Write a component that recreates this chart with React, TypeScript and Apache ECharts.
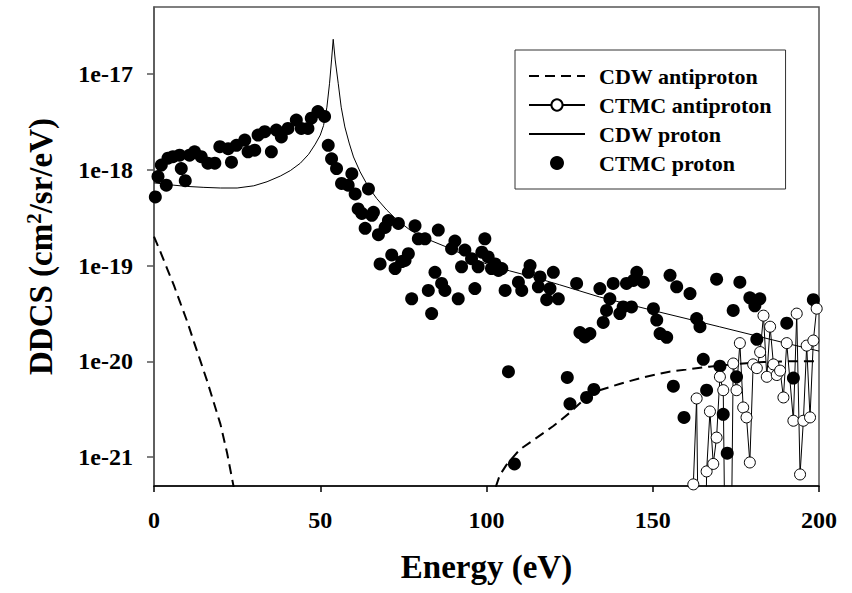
import React, { useEffect, useRef } from "react";
import * as echarts from "echarts";

// ---- Data ----
// CDW antiproton (dashed), low-energy part
const cdwAntiLowE = [0, 2, 4, 6, 8, 10, 12, 14, 16, 18, 20, 22, 24];
const cdwAntiLowV = [2.0e-19, 1.37e-19, 9.2e-20, 6.2e-20, 4.0e-20, 2.6e-20, 1.6e-20, 1.0e-20, 6.2e-21, 3.7e-21, 2.2e-21, 1.1e-21, 4.8e-22];
// CDW antiproton (dashed), high-energy part
const cdwAntiHighE = [102.8, 104, 106, 108, 110, 114, 120, 125, 130, 134, 140, 147, 155, 160, 167, 175, 182, 190, 200];
const cdwAntiHighV = [4.9e-22, 6.5e-22, 8.3e-22, 1.0e-21, 1.2e-21, 1.5e-21, 2.1e-21, 2.9e-21, 4.2e-21, 5.0e-21, 5.8e-21, 6.8e-21, 7.8e-21, 8.2e-21, 8.8e-21, 9.4e-21, 9.8e-21, 1.0e-20, 1.0e-20];

// CTMC antiproton (open circles joined by a line)
const ctmcAntiE = [162.2, 163.2, 164.7, 166.2, 167.2, 168.2, 169.2, 170.2, 171.2, 172.7, 174.2, 175.2, 176.2, 177.2, 178.2, 179.2, 180.2, 181.3, 182.3, 183.3, 184.3, 185.3, 186.3, 187.3, 188.3, 189.3, 190.3, 192.3, 193.3, 194.3, 195.3, 196.3, 197.3, 198.3, 199.3];
const ctmcAntiV = [5.2e-22, 4.1e-21, 1e-25, 7.1e-22, 3.0e-21, 8.5e-22, 1.6e-21, 6.9e-21, 5.0e-21, 1e-25, 9.5e-21, 5.0e-21, 1.55e-20, 3.3e-21, 2.6e-21, 8.8e-22, 9.3e-21, 8.5e-21, 1.25e-20, 3.0e-20, 6.9e-21, 2.3e-20, 9.3e-21, 7.2e-21, 8.0e-21, 4.2e-21, 1.55e-20, 2.4e-21, 3.15e-20, 6.6e-22, 2.4e-21, 1.46e-20, 2.6e-21, 1.65e-20, 3.55e-20];

// CDW proton (solid thin line)
const cdwProtonE = [0, 3, 6, 10, 15, 20, 25, 30, 34, 38, 41, 44, 46.5, 48.5, 50, 51, 52, 52.8, 53.4, 53.9, 54.5, 55.4, 56.3, 57.4, 58.7, 60, 62, 64.5, 67, 70, 73, 77, 82, 88, 94, 100, 107, 114, 122, 134, 142, 150, 160, 170, 181, 190, 200];
const cdwProtonV = [7.3e-19, 7.1e-19, 6.9e-19, 6.7e-19, 6.55e-19, 6.45e-19, 6.45e-19, 6.8e-19, 7.5e-19, 8.6e-19, 9.8e-19, 1.17e-18, 1.45e-18, 1.85e-18, 2.3e-18, 2.9e-18, 4.5e-18, 8e-18, 1.4e-17, 2.3e-17, 1.4e-17, 8e-18, 4.5e-18, 2.8e-18, 1.9e-18, 1.36e-18, 9.5e-19, 6.6e-19, 5.0e-19, 3.8e-19, 3.0e-19, 2.35e-19, 1.9e-19, 1.56e-19, 1.26e-19, 1.04e-19, 8.8e-20, 7.6e-20, 6.3e-20, 4.7e-20, 4.0e-20, 3.4e-20, 2.8e-20, 2.3e-20, 1.85e-20, 1.55e-20, 1.28e-20];

// CTMC proton (filled circles)
const ctmcProtonE = [0.4, 1.2, 2.2, 3.7, 4.2, 5.7, 7.7, 8.2, 9.4, 10.7, 12.2, 14.2, 16.2, 18.3, 19.8, 22.3, 23.3, 24.8, 27.3, 28.3, 30.3, 31.3, 33.3, 35.3, 36.8, 38.3, 40.3, 42.8, 44.3, 46.3, 47.3, 49.3, 51.3, 52.4, 53.4, 54.9, 56.4, 58.4, 59.5, 60.5, 61.4, 62.5, 63.5, 64.5, 65.5, 66.0, 67.5, 68.0, 69.5, 70.5, 71.5, 72.5, 73.5, 74.5, 75.5, 76.5, 77.5, 78.5, 79.5, 81.5, 82.5, 83.5, 84.5, 85.5, 86.5, 87.5, 89.5, 90.5, 91.5, 92.5, 93.5, 95.5, 96.5, 97.5, 98.6, 99.5, 100.5, 101.5, 102.6, 103.6, 104.6, 105.6, 106.6, 108.4, 109.6, 110.6, 112.6, 113.1, 115.6, 116.1, 118.1, 119.1, 120.1, 121.6, 124.3, 125.1, 127.1, 128.1, 129.6, 130.1, 131.1, 132.3, 134.1, 135.1, 136.1, 137.1, 138.1, 140.1, 141.1, 142.1, 143.6, 144.2, 145.2, 147.2, 150.2, 151.2, 152.2, 154.2, 155.2, 156.2, 157.2, 159.4, 161.2, 163.2, 164.2, 165.2, 166.2, 169.2, 170.2, 171.2, 172.4, 174.2, 175.2, 176.2, 179.2, 180.7, 181.3, 182.2, 190.3, 192.3, 198.3];
const ctmcProtonV = [5.2e-19, 8.5e-19, 1.12e-18, 6.9e-19, 1.32e-18, 1.37e-18, 1.42e-18, 1.03e-18, 7.7e-19, 1.42e-18, 1.54e-18, 1.37e-18, 1.17e-18, 1.17e-18, 1.74e-18, 1.66e-18, 1.2e-18, 1.8e-18, 2.04e-18, 1.54e-18, 1.6e-18, 2.3e-18, 2.5e-18, 1.54e-18, 2.6e-18, 2.2e-18, 2.7e-18, 3.3e-18, 2.7e-18, 2.7e-18, 3.45e-18, 4.05e-18, 3.6e-18, 1.8e-18, 1.3e-18, 1.03e-18, 7.2e-19, 6.9e-19, 9.1e-19, 5.6e-19, 3.9e-19, 3.5e-19, 2.45e-19, 6.3e-19, 3.35e-19, 3.6e-19, 2.1e-19, 1.04e-19, 2.5e-19, 2.95e-19, 1.29e-19, 9.3e-20, 2.75e-19, 1.1e-19, 1.13e-19, 1.33e-19, 4.5e-20, 2.6e-19, 1.9e-19, 1.9e-19, 5.5e-20, 3.15e-20, 8.5e-20, 2.35e-19, 6.5e-20, 5.5e-20, 1.5e-19, 1.8e-19, 4.5e-20, 9.7e-20, 1.45e-19, 1.18e-19, 5.75e-20, 9.7e-20, 1.38e-19, 1.9e-19, 1.23e-19, 9.3e-20, 1.04e-19, 8.9e-20, 9.3e-20, 5.5e-20, 7.8e-21, 8.5e-22, 6.7e-20, 5.5e-20, 8.5e-20, 1.0e-19, 6.0e-20, 7.6e-20, 4.4e-20, 5.75e-20, 8.5e-20, 4.5e-20, 6.8e-21, 3.6e-21, 6.5e-20, 2.0e-20, 1.8e-20, 4.2e-21, 1.95e-20, 5.1e-21, 5.75e-20, 2.55e-20, 3.4e-20, 4.5e-20, 6.5e-20, 3.15e-20, 3.7e-20, 6.5e-20, 3.7e-20, 7.0e-20, 8.5e-20, 6.7e-20, 3.55e-20, 2.7e-20, 1.95e-20, 1.78e-20, 7.9e-20, 5.5e-21, 6.0e-20, 2.6e-21, 5.1e-20, 2.8e-20, 2.3e-20, 1.05e-20, 5.0e-21, 7.2e-20, 8.9e-21, 2.8e-21, 1.1e-21, 3.4e-20, 6.9e-21, 6.7e-20, 4.6e-20, 3.8e-20, 1.7e-20, 4.5e-20, 2.5e-20, 6.7e-21, 4.4e-20];

const xTicks = { min: 0, max: 200, interval: 50 };
const yRange = { min: 5e-22, max: 5e-17 };

const zip = (xs: number[], ys: number[]) => xs.map((x, i) => [x, ys[i]]);

const FONT = "'Liberation Serif', 'Times New Roman', serif";

export default function App() {
  const ref = useRef<HTMLDivElement>(null);
  useEffect(() => {
    if (!ref.current) return;
    const chart = echarts.init(ref.current, undefined, { renderer: "svg" });
    chart.setOption({
      animation: false,
      backgroundColor: "#fff",
      grid: {
        left: 154,
        top: 7,
        right: 33,
        bottom: 107,
        show: true,
        borderColor: "#555",
        borderWidth: 1.5,
        backgroundColor: "transparent",
      },
      legend: {
        orient: "vertical",
        left: 515,
        top: 50,
        padding: [15, 14, 15, 13],
        itemGap: 7,
        itemWidth: 56,
        itemHeight: 14,
        borderColor: "#333",
        borderWidth: 1,
        backgroundColor: "#fff",
        selectedMode: false,
        textStyle: {
          fontFamily: FONT,
          fontWeight: "bold",
          fontSize: 22,
          color: "#000",
          lineHeight: 22,
          padding: [0, 0, 0, 9],
        },
        data: [
          { name: "CDW antiproton", itemStyle: { opacity: 0 } },
          { name: "CTMC antiproton" },
          { name: "CDW proton", itemStyle: { opacity: 0 } },
          { name: "CTMC proton" },
        ],
      },
      xAxis: {
        type: "value",
        min: xTicks.min,
        max: xTicks.max,
        interval: xTicks.interval,
        name: "Energy (eV)",
        nameLocation: "middle",
        nameGap: 64,
        nameTextStyle: { fontFamily: FONT, fontWeight: "bold", fontSize: 33, color: "#000" },
        axisLine: { show: true, lineStyle: { color: "#000", width: 1.5 } },
        axisTick: { show: true, inside: false, length: 6, lineStyle: { color: "#000", width: 1.5 } },
        axisLabel: { margin: 22, fontFamily: FONT, fontWeight: "bold", fontSize: 24, color: "#000" },
        splitLine: { show: false },
      },
      yAxis: {
        type: "log",
        logBase: 10,
        min: yRange.min,
        max: yRange.max,
        name: "{m|DDCS (cm}{s|2}{m|/sr/eV)}",
        nameLocation: "middle",
        nameGap: 95,
        nameTextStyle: {
          rich: {
            m: { fontFamily: FONT, fontWeight: "bold", fontSize: 33, color: "#000", lineHeight: 36 },
            s: { fontFamily: FONT, fontWeight: "bold", fontSize: 21, color: "#000", lineHeight: 36, verticalAlign: "top" },
          },
        },
        axisLine: { show: true, lineStyle: { color: "#555", width: 1.5 } },
        axisTick: { show: true, inside: false, length: 7, lineStyle: { color: "#555", width: 1.5 } },
        axisLabel: {
          margin: 21,
          fontFamily: FONT,
          fontWeight: "bold",
          fontSize: 24,
          color: "#000",
          showMinLabel: false,
          showMaxLabel: false,
          formatter: (v: number) => "1e" + Math.round(Math.log10(v)),
        },
        splitLine: { show: false },
        minorTick: { show: false },
      },
      series: [
        {
          name: "CDW antiproton",
          type: "line",
          data: zip(cdwAntiLowE, cdwAntiLowV),
          showSymbol: false,
          symbol: "none",
          clip: true,
          lineStyle: { color: "#000", width: 2, type: [10, 6] },
          itemStyle: { color: "#000" },
        },
        {
          name: "CDW antiproton",
          type: "line",
          data: zip(cdwAntiHighE, cdwAntiHighV),
          showSymbol: false,
          symbol: "none",
          clip: true,
          lineStyle: { color: "#000", width: 2, type: [10, 6] },
          itemStyle: { color: "#000" },
        },
        {
          name: "CTMC antiproton",
          type: "line",
          data: zip(ctmcAntiE, ctmcAntiV),
          symbol: "circle",
          symbolSize: 11,
          showSymbol: true,
          clip: true,
          lineStyle: { color: "#000", width: 1 },
          itemStyle: { color: "#fff", borderColor: "#000", borderWidth: 1, opacity: 1 },
          z: 3,
        },
        {
          name: "CDW proton",
          type: "line",
          data: zip(cdwProtonE, cdwProtonV),
          showSymbol: false,
          symbol: "none",
          clip: true,
          lineStyle: { color: "#000", width: 1 },
          itemStyle: { color: "#000" },
        },
        {
          name: "CTMC proton",
          type: "scatter",
          data: zip(ctmcProtonE, ctmcProtonV),
          symbol: "circle",
          symbolSize: 13,
          itemStyle: { color: "#000", opacity: 1 },
          clip: true,
        },
      ],
    });
    return () => chart.dispose();
  }, []);
  return (
    <div
      ref={ref}
      style={{ position: "absolute", left: 0, top: 0, width: 852, height: 593, background: "#fff" }}
    />
  );
}
